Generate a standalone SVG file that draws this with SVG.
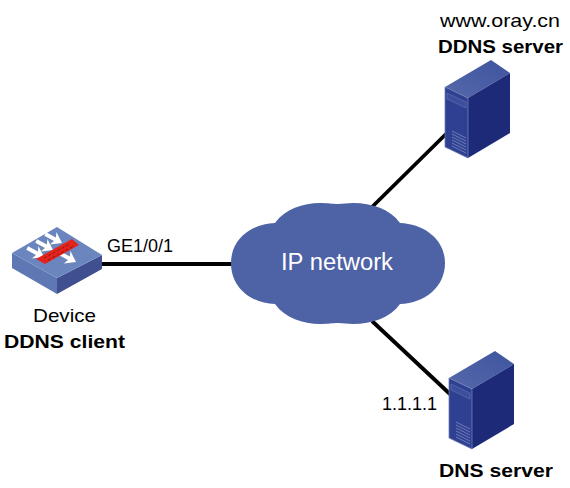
<svg xmlns="http://www.w3.org/2000/svg" width="570" height="488" viewBox="0 0 570 488">
<style>
text{font-family:"Liberation Sans",Arial,sans-serif;font-size:19px;fill:#000}
.b{font-weight:bold}
.l{stroke:#000;stroke-width:3.8;fill:none}
.side{fill:#1c2a78}.front{fill:#2f3f92}
.edge{fill:none;stroke:#6f80b8;stroke-width:.8}
.vent{stroke:#7d8cc0;stroke-width:.8}
</style>
<defs>
<linearGradient id="tg" x1="0" y1="1" x2="1" y2="0"><stop offset="0" stop-color="#5568aa"/><stop offset="1" stop-color="#3f54a0"/></linearGradient>
<path id="arrow" fill="#fff" d="M-19 -2H-8L-10 -7L0 0L-10 7L-8 2H-19Z"/>
<g id="server">
<path d="M0 27L46 0L65 13L23 38Z" fill="url(#tg)"/>
<path d="M65 13V73L23 98V38Z" class="side"/>
<path d="M0 27L23 38V98L0 87Z" class="front"/>
<path d="M0 27L23 38V98L0 87Z" class="edge"/>
<path d="M2 33L21 42V48L2 39Z" fill="#3d4f9c" stroke="#6676b0" stroke-width=".6"/>
<g class="vent"><path d="M7 71L21 78M7 74L21 81M7 77L21 84M7 80L21 87M7 83L21 90M7 86L21 93"/></g>
</g>
</defs>
<g id="connectors">
<path class="l" d="M102 264H235"/>
<path class="l" d="M372 207L447 133"/>
<path class="l" d="M372 321L451 395"/>
</g>
<g id="device">
<path d="M12 253L57 278V294L12 268Z" fill="#5f78b4"/>
<path d="M57 278L102 255V269L57 294Z" fill="#3f4f8f"/>
<path d="M57 227L102 255L57 278L12 253Z" fill="#6b86be"/>
<use href="#arrow" transform="translate(44 257) rotate(28)"/>
<use href="#arrow" transform="translate(53 250) rotate(28)"/>
<use href="#arrow" transform="translate(62 243) rotate(28)"/>
<use href="#arrow" transform="translate(76 262) rotate(28)"/>
<path d="M36 259L72 239L79 245L45 264Z" fill="#e3231b"/>
<path d="M44 258L70 244M48 260L74 246" stroke="#8c1a1a" stroke-width="1" stroke-dasharray="3 2"/>
<text x="33" y="322" textLength="63" lengthAdjust="spacingAndGlyphs">Device</text>
<text class="b" x="4" y="348" textLength="121" lengthAdjust="spacingAndGlyphs">DDNS client</text>
</g>
<g id="cloud">
<path fill="#4e62a6" d="M231 263C231 240 250 224 275 223C285 209 303 203 320 203C328 203 333 204 338 204C343 204 348 203 353 203C372 203 390 209 400 223C425 224 445 240 445 263C445 287 425 303 400 304C390 318 372 324 353 324C348 324 343 323 338 323C333 323 328 324 320 324C303 324 285 318 275 304C250 303 231 287 231 263Z"/>
<text x="281" y="270" textLength="112" lengthAdjust="spacingAndGlyphs" style="fill:#fff;font-size:23px">IP network</text>
</g>
<g id="ddns-server">
<use href="#server" transform="translate(445 60)"/>
<text x="440" y="27" textLength="120" lengthAdjust="spacingAndGlyphs">www.oray.cn</text>
<text class="b" x="438" y="53" textLength="125" lengthAdjust="spacingAndGlyphs">DDNS server</text>
</g>
<g id="dns-server">
<use href="#server" transform="translate(449 351)"/>
<text class="b" x="439" y="477" textLength="114" lengthAdjust="spacingAndGlyphs">DNS server</text>
<text x="382" y="410" textLength="55" lengthAdjust="spacingAndGlyphs">1.1.1.1</text>
</g>
<text x="107" y="252" textLength="66" lengthAdjust="spacingAndGlyphs">GE1/0/1</text>
</svg>
